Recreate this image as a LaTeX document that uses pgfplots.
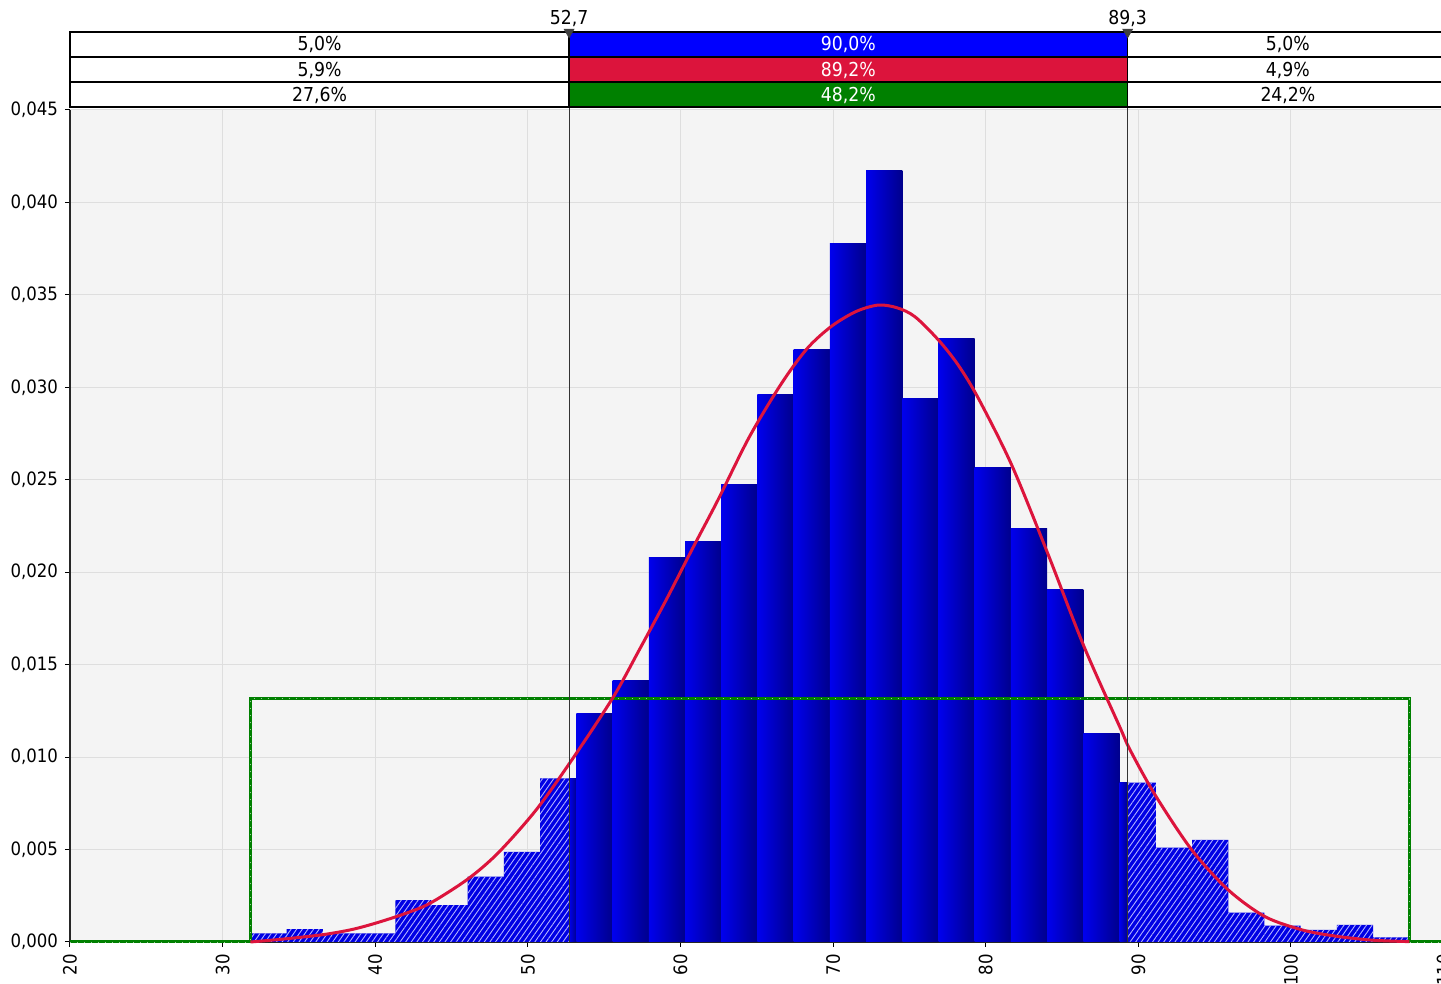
\documentclass[border=0pt]{standalone}
\usepackage{pgfplots}
\pgfplotsset{compat=1.18}
\usepackage{fontspec}
\setmainfont{DejaVu Sans Condensed}
\usetikzlibrary{patterns.meta}

\definecolor{bgc}{RGB}{244,244,244}
\definecolor{gridc}{RGB}{222,222,222}
\definecolor{barL}{RGB}{0,0,238}
\definecolor{barR}{RGB}{0,0,140}
\definecolor{hatchB}{RGB}{0,0,228}
\definecolor{fitred}{RGB}{220,20,60}
\definecolor{unigreen}{RGB}{0,128,0}
\definecolor{bandblue}{RGB}{0,0,255}

% one shaded histogram bin: left edge, height, right edge
\newcommand{\cbar}[3]{%
  \addplot[ybar interval, draw=none, left color=barL, right color=barR]
    coordinates {(#1,#2)(#3,0)};}

\begin{document}
\begin{tikzpicture}[font=\fontsize{9.6}{11}\selectfont]
\begin{axis}[
  scale only axis, width=686.8pt, height=416pt,
  xmin=20, xmax=110, ymin=0, ymax=0.045,
  clip=false,
  axis background/.style={fill=bgc},
  axis x line*=bottom, axis y line*=left,
  axis line style={black!85, line width=0.6pt},
  xtick={20,30,...,110},
  ytick={0,0.005,0.01,0.015,0.02,0.025,0.03,0.035,0.04,0.045},
  grid=major, major grid style={gridc, line width=0.5pt},
  tick align=outside, major tick length=2.5pt,
  tick style={black, line width=0.5pt},
  tick label style={font=\fontsize{9.2}{11}\selectfont},
  scaled y ticks=false,
  /pgf/number format/assume math mode=true,
  yticklabel style={/pgf/number format/.cd, fixed, fixed zerofill, precision=3, use comma},
  xticklabel style={rotate=90, anchor=east},
]
\coordinate (O) at (axis cs:20,0);

% lower tail histogram bins (hatched)
\addplot[ybar interval, draw=none, fill=hatchB,
  postaction={pattern={Lines[angle=55,distance=2.3pt,line width=0.45pt]}, pattern color=white!70!blue}]
  coordinates {(31.820,0.00047)(34.193,0.00070)(36.566,0.00047)(38.939,0.00047)
  (41.312,0.00227)(43.685,0.00200)(46.058,0.00353)(48.431,0.00488)(50.804,0.00885)(52.7,0)};

% central bins, each with its own shading
\cbar{52.7}{0.00885}{53.177}
\cbar{53.177}{0.01237}{55.550}
\cbar{55.550}{0.01412}{57.923}
\cbar{57.923}{0.02080}{60.296}
\cbar{60.296}{0.02165}{62.669}
\cbar{62.669}{0.02477}{65.042}
\cbar{65.042}{0.02959}{67.415}
\cbar{67.415}{0.03206}{69.788}
\cbar{69.788}{0.03779}{72.161}
\cbar{72.161}{0.04175}{74.534}
\cbar{74.534}{0.02940}{76.907}
\cbar{76.907}{0.03265}{79.280}
\cbar{79.280}{0.02564}{81.653}
\cbar{81.653}{0.02234}{84.026}
\cbar{84.026}{0.01904}{86.399}
\cbar{86.399}{0.01125}{88.772}
\cbar{88.772}{0.00862}{89.3}

% upper tail histogram bins (hatched)
\addplot[ybar interval, draw=none, fill=hatchB,
  postaction={pattern={Lines[angle=55,distance=2.3pt,line width=0.45pt]}, pattern color=white!70!blue}]
  coordinates {(89.3,0.00862)(91.145,0.00510)(93.518,0.00552)(95.891,0.00159)(98.264,0.00088)
  (100.637,0.00065)(103.010,0.00092)(105.383,0.00025)(107.756,0)};

% uniform density
\addplot[unigreen, line width=1.5pt, line join=miter,
  postaction={draw=white!60!unigreen, line width=0.35pt, dash pattern=on 0.5pt off 3pt}]
  coordinates {(20,0)(31.82,0)(31.82,0.01316)(107.756,0.01316)(107.756,0)(110,0)};

% fitted density
\addplot[fitred, line width=1.5pt, smooth, tension=0.5]
  coordinates {(31.82,0)(34.0,0.00016)(36.6,0.00040)(38.5,0.00068)(40.15,0.00105)(42.0,0.00155)
  (43.6,0.0021)(46.06,0.0034)(48.03,0.0048)(50.5,0.0071)(52.8,0.00975)(55.56,0.0132)
  (57.3,0.0158)(59.06,0.0185)(60.8,0.0213)(62.45,0.0239)(64.5,0.0273)(66.61,0.0302)
  (68.3,0.0321)(69.89,0.0333)(71.5,0.0341)(72.96,0.03445)(74.2,0.0343)(75.36,0.03382)
  (76.9,0.03256)(78.2,0.0312)(79.52,0.0294)(81.7,0.0258)(84.07,0.0210)(86.43,0.0160)
  (88.8,0.0116)(89.45,0.0104)(91.1,0.00795)(93.5,0.00498)(95.9,0.00281)(98.3,0.00137)
  (100.75,0.00065)(102.9,0.00032)(105.3,0.0001)(107.76,0.00002)};

% delimiter lines
\addplot[black!80, line width=0.5pt] coordinates {(52.7,0)(52.7,0.04922)};
\addplot[black!80, line width=0.5pt] coordinates {(89.3,0)(89.3,0.04922)};

% probability band strip
\draw[black, line width=0.6pt, fill=white] (axis cs:20,0.04787) rectangle (axis cs:52.7,0.04922);
\draw[black, line width=0.6pt, fill=white] (axis cs:20,0.04651) rectangle (axis cs:52.7,0.04787);
\draw[black, line width=0.6pt, fill=white] (axis cs:20,0.04516) rectangle (axis cs:52.7,0.04651);
\draw[black, line width=0.6pt, fill=bandblue] (axis cs:52.7,0.04787) rectangle (axis cs:89.3,0.04922);
\draw[black, line width=0.6pt, fill=fitred] (axis cs:52.7,0.04651) rectangle (axis cs:89.3,0.04787);
\draw[black, line width=0.6pt, fill=unigreen] (axis cs:52.7,0.04516) rectangle (axis cs:89.3,0.04651);
\draw[black, line width=0.6pt, fill=white] (axis cs:89.3,0.04787) rectangle (axis cs:112,0.04922);
\draw[black, line width=0.6pt, fill=white] (axis cs:89.3,0.04651) rectangle (axis cs:112,0.04787);
\draw[black, line width=0.6pt, fill=white] (axis cs:89.3,0.04516) rectangle (axis cs:112,0.04651);

\node at (axis cs:36.35,0.04852) {5,0\%};
\node at (axis cs:36.35,0.04716) {5,9\%};
\node at (axis cs:36.35,0.04580) {27,6\%};
\node[white] at (axis cs:71.0,0.04852) {90,0\%};
\node[white] at (axis cs:71.0,0.04716) {89,2\%};
\node[white] at (axis cs:71.0,0.04580) {48,2\%};
\node at (axis cs:99.8,0.04852) {5,0\%};
\node at (axis cs:99.8,0.04716) {4,9\%};
\node at (axis cs:99.8,0.04580) {24,2\%};

\addplot[only marks, mark=triangle*, mark size=2.8pt,
  mark options={rotate=180, fill=black!75, draw=black!75}]
  coordinates {(52.7,0.04922)(89.3,0.04922)};
\node[anchor=base] at (axis cs:52.7,0.04962) {52,7};
\node[anchor=base] at (axis cs:89.3,0.04962) {89,3};
\end{axis}
\pgfresetboundingbox
\useasboundingbox ([xshift=-35pt,yshift=-21pt]O) rectangle ([xshift=685.5pt,yshift=471pt]O);
\end{tikzpicture}
\end{document}
